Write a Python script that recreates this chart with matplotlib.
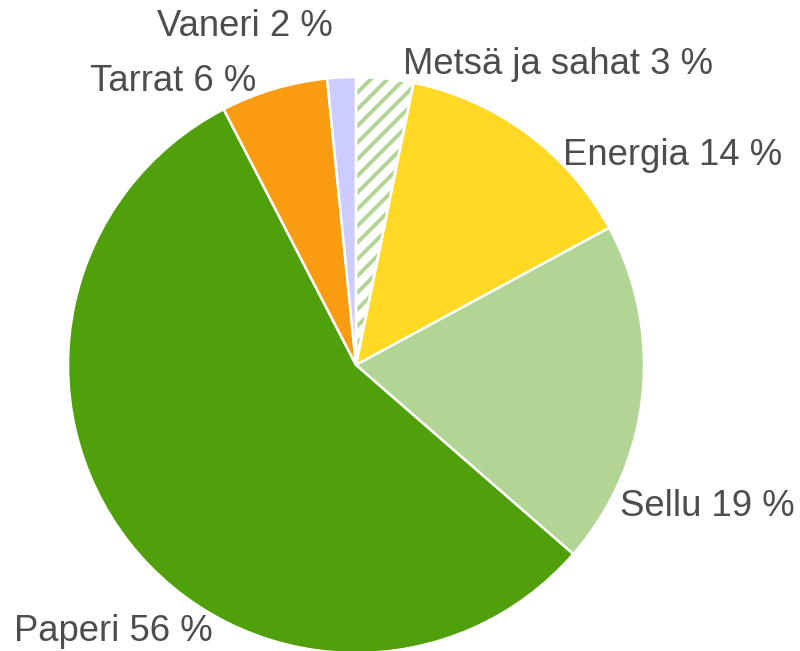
import matplotlib.pyplot as plt
from matplotlib.patches import Wedge

plt.rcParams['font.family'] = ['Liberation Sans', 'DejaVu Sans']
plt.rcParams['hatch.linewidth'] = 2.8

# data, clockwise from 12 o'clock
labels = ["Metsä ja sahat", "Energia", "Sellu", "Paperi", "Tarrat", "Vaneri"]
shares = [3.2, 13.9, 19.3, 56.0, 6.0, 1.6]
colors = ["#ffffff", "#ffd923", "#b2d494", "#50a00c", "#fa9c12", "#ccccff"]

# label anchors (in radius units) and alignment
label_pos = [(0.163, 1.045), (0.719, 0.729), (0.917, -0.493),
             (-0.497, -0.927), (-0.347, 0.983), (-0.080, 1.177)]
label_ha = ["left", "left", "left", "right", "right", "right"]

fig = plt.figure(figsize=(8, 6.51), dpi=100)
ax = fig.add_axes([0, 0, 1, 1])

wedges, _ = ax.pie(shares, colors=colors, startangle=90, counterclock=False,
                   radius=1.0, wedgeprops=dict(edgecolor="white", linewidth=1.8))

# hatched slice: green stripes on white, then a white outline on top
hw = wedges[0]
hw.set_edgecolor("#b2d494")
hw.set_linewidth(0)
hw.set_hatch("//")
ax.add_patch(Wedge(hw.center, hw.r, hw.theta1, hw.theta2, fill=False,
                   edgecolor="white", linewidth=1.8, zorder=hw.get_zorder() + 1))

for name, val, (x, y), ha in zip(labels, shares, label_pos, label_ha):
    ax.text(x, y, f"{name} {round(val)} %", ha=ha, va="center",
            fontsize=26.3, color="#4d4d4d")

r = 288.0
ax.set_xlim(-356 / r, (800 - 356) / r)
ax.set_ylim(-(651 - 365) / r, 365 / r)
ax.set_aspect("equal")
ax.axis("off")

fig.savefig("out.png", dpi=100)
